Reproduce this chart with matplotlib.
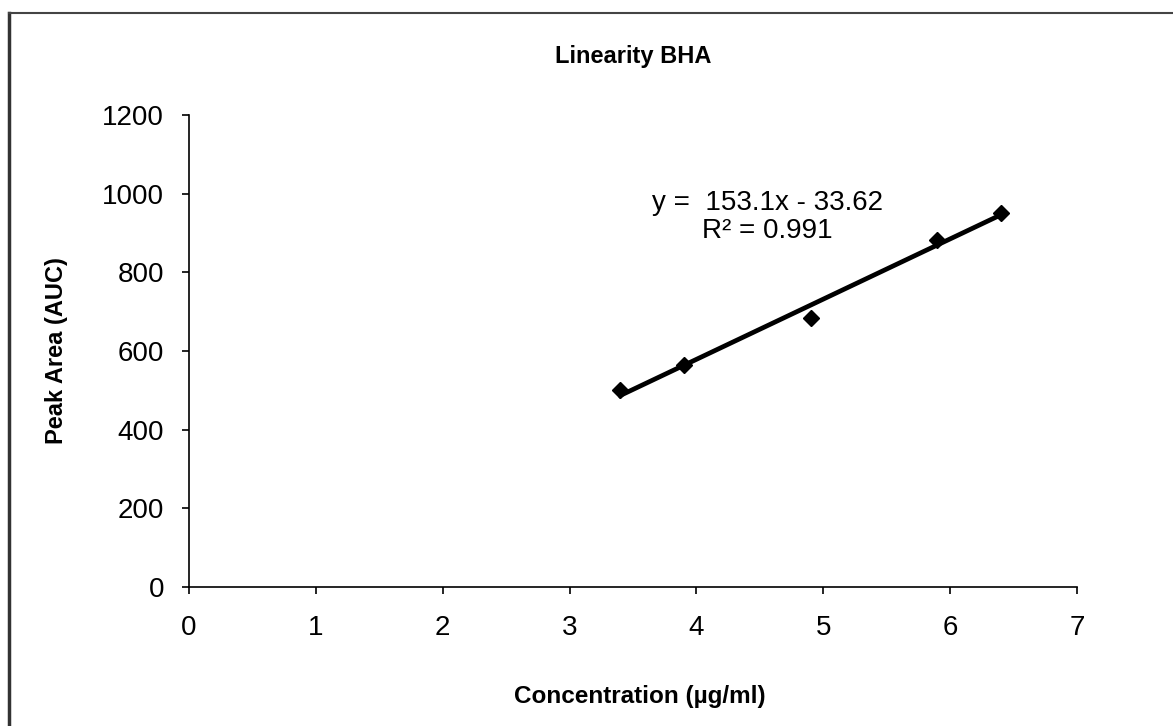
import numpy as np
import matplotlib
matplotlib.use("Agg")
import matplotlib.pyplot as plt
from matplotlib.lines import Line2D

plt.rcParams['font.family'] = ['Liberation Sans', 'DejaVu Sans']

# BHA calibration data
conc = [3.4, 3.9, 4.9, 5.9, 6.4]          # µg/ml
area = [501, 564, 684, 882, 952]          # peak area (AUC)

# linear trendline as reported
slope = 153.1
intercept = -33.62
r2 = 0.991

x_ticks = [0, 1, 2, 3, 4, 5, 6, 7]
y_ticks = [0, 200, 400, 600, 800, 1000, 1200]

W, H = 1173, 726
fig = plt.figure(figsize=(W / 100, H / 100), dpi=100)
ax = fig.add_axes([189 / W, 1 - 587 / H, (1077 - 189) / W, (587 - 115) / H])

ax.plot(conc, area, linestyle='none', marker='D', markersize=8.5,
        color='black', zorder=3)

xfit = np.array([conc[0], conc[-1]])
ax.plot(xfit, slope * xfit + intercept, color='black', linewidth=3.4, zorder=2)

ax.text(4.56, 940, "y =  %.1fx - %.2f\nR² = %.3f" % (slope, -intercept, r2),
        ha='center', va='center', fontsize=20, linespacing=1.12,
        multialignment='center')

ax.set_xlim(0, 7)
ax.set_ylim(0, 1200)
ax.set_xticks(x_ticks)
ax.set_yticks(y_ticks)
ax.tick_params(direction='out', length=5, width=1.2, labelsize=20,
               colors='black')
ax.tick_params(axis='x', pad=15)
ax.tick_params(axis='y', pad=13)
for s in ['top', 'right']:
    ax.spines[s].set_visible(False)
for s in ['left', 'bottom']:
    ax.spines[s].set_linewidth(1.2)

fig.text(633 / W, 1 - 57 / H, "Linearity BHA", ha='center', va='center',
         fontsize=17, fontweight='bold')
fig.text(640 / W, 1 - 697 / H, "Concentration (µg/ml)", ha='center',
         va='center', fontsize=17.5, fontweight='bold')
fig.text(57 / W, 1 - 351 / H, "Peak Area (AUC)", ha='center', va='center',
         rotation=90, fontsize=17, fontweight='bold')

# outer chart frame (top and left edges)
fig.add_artist(Line2D([9 / W, 9 / W], [0, 1 - 13 / H], color='#333333',
                      linewidth=2.5, transform=fig.transFigure))
fig.add_artist(Line2D([9 / W, 1], [1 - 13 / H, 1 - 13 / H], color='#444444',
                      linewidth=1.5, transform=fig.transFigure))

fig.savefig("out.png", dpi=100)
